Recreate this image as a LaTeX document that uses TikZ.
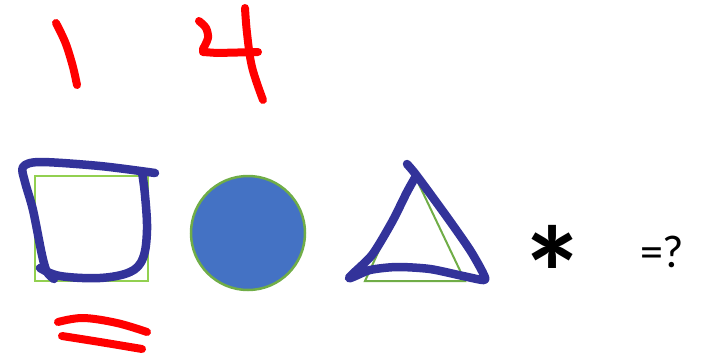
\documentclass[tikz,border=0pt]{standalone}
\usepackage{fontspec}
\setmainfont{Carlito}
\begin{document}
\begin{tikzpicture}[x=1pt,y=-1pt,
  bluepen/.style={draw=penblue,line width=8.5pt,line cap=round,line join=round},
  redpen/.style={draw=penred,line width=8pt,line cap=round,line join=round},
  sqshape/.style={draw=sqgreen,line width=2pt},
  trishape/.style={draw=trigreen,line width=2pt},
  txt/.style={inner sep=0pt,outer sep=0pt}]
\definecolor{penblue}{HTML}{33339A}
\definecolor{penred}{HTML}{FF0000}
\definecolor{sqgreen}{HTML}{92D050}
\definecolor{trigreen}{HTML}{70AD47}
\definecolor{circfill}{HTML}{4472C4}
\useasboundingbox (0,0) rectangle (705,357);
% red "1"
\draw[redpen] plot[smooth,tension=0.6] coordinates {(56,23) (62,35) (67,47) (73,67) (77,85)};
% red "4"
\draw[redpen] plot[smooth,tension=0.5] coordinates {(199,21) (206,28) (208,38) (203,49)} -- (203,52) -- (217,53) -- (258,52);
\draw[redpen] plot[smooth,tension=0.6] coordinates {(245,8) (247,33) (252,67) (263,100)};
% square
\draw[sqshape] (35,176) rectangle (148,281);
\draw[bluepen] plot[smooth,tension=0.5] coordinates {(155,173) (100,166) (40,162) (23,167) (25,182) (33,210) (42,255) (47,272) (54,279)};
\draw[bluepen] plot[smooth,tension=0.6] coordinates {(40,268) (60,276) (100,278) (130,272) (143,258) (147,230) (145,195) (142,172)};
% red "="
\draw[redpen] plot[smooth,tension=0.6] coordinates {(58,322) (83,318) (117,323) (147,332)};
\draw[redpen] plot[smooth,tension=0.6] coordinates {(62,336) (100,342) (142,349)};
% circle
\node[circle,fill=circfill,draw=trigreen,line width=2.5pt,minimum size=114pt,inner sep=0pt] (circ) at (248,233) {};
% triangle
\draw[trishape] (365,281) -- (465,281) -- (414,174) -- cycle;
\draw[bluepen] plot[smooth,tension=0.45] coordinates {(407,164) (417,176) (447,217) (470,250) (483,273) (484,280) (463,276) (430,269) (397,267) (370,270) (349,278) (372,255) (392,222) (407,192) (416,176)};
% asterisk
\node[txt,font=\bfseries\fontsize{133}{133}\selectfont] (ast) at (553,273) {*};
% =?
\node[txt,anchor=base west,font=\fontsize{46}{46}\selectfont] (eq) at (640,267) {=?};
\end{tikzpicture}
\end{document}
